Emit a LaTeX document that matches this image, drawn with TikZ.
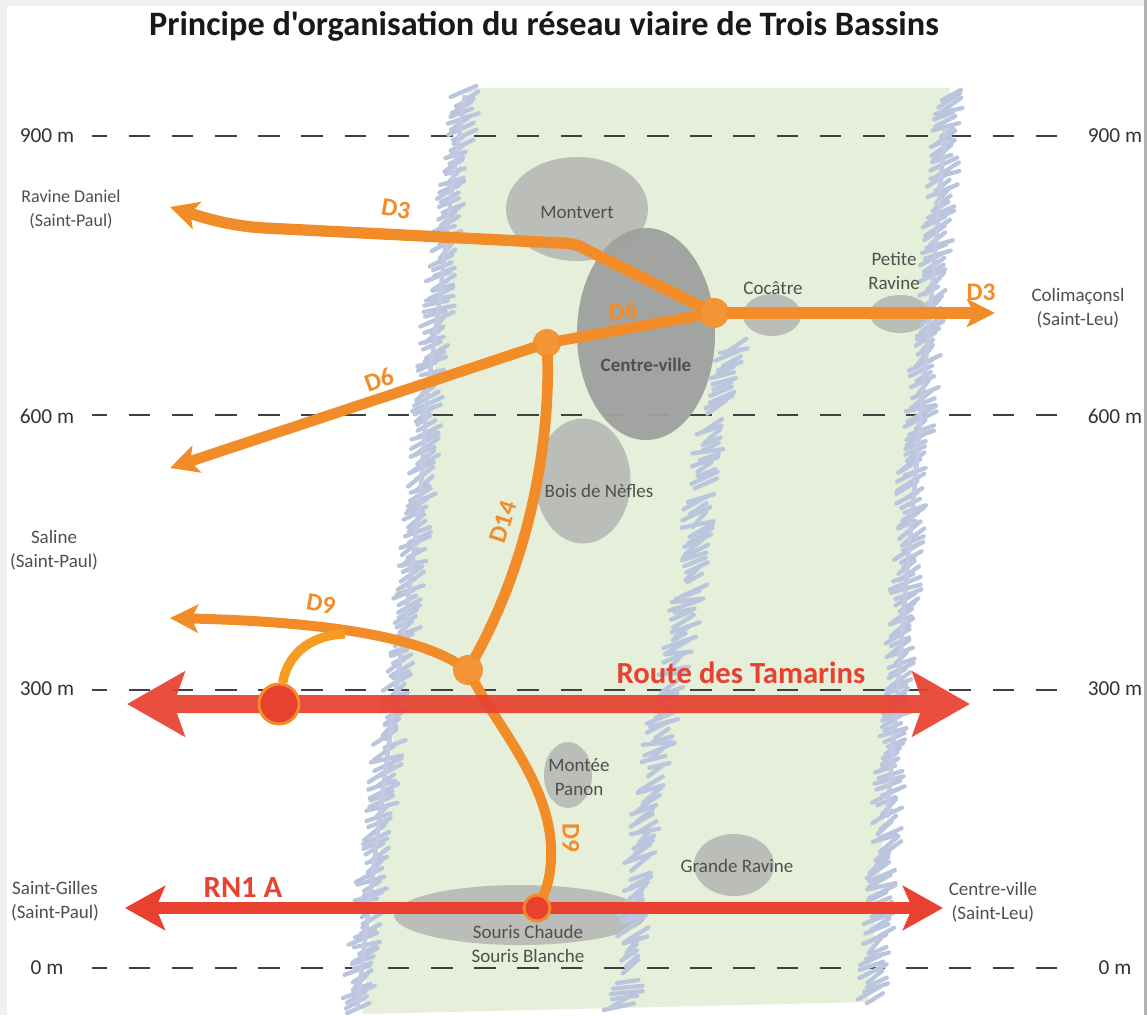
\documentclass[tikz,border=0pt]{standalone}
\usepackage{fontspec}
\setmainfont{Carlito}
\newfontfamily\titrefont{Carlito}
\usetikzlibrary{arrows.meta,shapes.geometric,decorations.markings}
\definecolor{bande}{HTML}{E5EFD9}
\definecolor{griffebleu}{HTML}{BAC6DD}
\definecolor{lavande}{HTML}{C3C8E3}
\definecolor{spotgris}{HTML}{B9BBB8}
\definecolor{centregris}{HTML}{9FA19F}
\definecolor{routeor}{HTML}{F28C28}
\definecolor{routero}{HTML}{E8412F}
\definecolor{texte}{HTML}{4F4F4F}
\tikzset{
  niveau/.style={line width=1.1pt,draw=black!75,dash pattern=on 16.2pt off 16.2pt,dash phase=5pt},
  griffe/.style={line width=3.2pt,line cap=round,draw=griffebleu},
  fil/.style={line width=3.5pt,draw=lavande},
  spot/.style 2 args={ellipse,fill=spotgris,fill opacity=.95,inner sep=0pt,minimum width=#1*0.75pt,minimum height=#2*0.75pt},
  lieu/.style={text=texte,align=center,font=\fontsize{14.25}{18}\selectfont},
  cote/.style={text=black!80,align=center,font=\fontsize{16}{18}\selectfont},
  rd/.style={line width=8pt,draw=routeor},
  rdtip/.style={-{Stealth[length=21pt,width=21pt,inset=5pt]}},
  noeud/.style={circle,fill=routeor!93!white,inner sep=0pt,outer sep=-2pt,minimum size=#1*0.75pt},
  feu/.style={circle,fill=routero,draw=routeor,line width=2.2pt,inner sep=0pt,minimum size=#1*0.75pt},
  rdnom/.style={text=routeor,font=\fontsize{19}{20}\bfseries\selectfont},
  rnnom/.style={text=routero,font=\fontsize{23}{24}\bfseries\selectfont},
}
\newcommand{\ravine}[1]{\path[postaction={decorate,decoration={markings,
  mark=between positions 0 and 1 step 4pt with {
    \pgfmathsetmacro{\da}{3+4*rnd}\pgfmathsetmacro{\db}{3+9*rnd}\pgfmathsetmacro{\dc}{3+9*rnd}
    \draw[griffe] (\da pt,-\db pt) -- (-\da pt,\dc pt);}}}] #1;}
\begin{document}
\begin{tikzpicture}[x=0.75pt,y=-0.75pt]
\useasboundingbox (0,0) rectangle (1147,1015);
\fill[white] (0,0) rectangle (1147,1015);
\fill[black!6] (0,0) rectangle (1147,6);
\fill[black!6] (0,0) rectangle (7,1015);
\fill[black!30] (1144,0) rectangle (1147,1015);
\fill[bande] (468,88) -- (950,88) -- (905,600) -- (868,1002) -- (362,1014) -- (425,450) -- cycle;
\foreach \yn in {136,415,690,968} {
  \coordinate (ga\yn) at (92,\yn);
  \coordinate (dr\yn) at (1057,\yn);
  \draw[niveau] (ga\yn) -- (dr\yn);
}
\node[spot={142}{104}] (montvert) at (577,209) {};
\node[spot={138}{212},fill=centregris] (centre) at (646,334) {};
\node[spot={95}{125}] (bois) at (583,481) {};
\node[spot={58}{42}] (cocatre) at (772,315) {};
\node[spot={60}{38}] (petite) at (900,314) {};
\node[spot={48}{66}] (montee) at (568,775) {};
\node[spot={80}{62}] (grande) at (734,865) {};
\node[spot={252}{60}] (souris) at (520,915) {};
\pgfmathsetseed{11}
\ravine{(467,92) -- (453,180) -- (440,297) -- (427,397) -- (420,500) -- (407,607) -- (383,790) -- (363,957) -- (356,1008)}
\ravine{(950,95) -- (943,180) -- (933,280) -- (927,347) -- (920,427) -- (913,458) -- (907,572) -- (898,686) -- (893,742) -- (887,818) -- (880,913) -- (872,1000)}
\draw[fil] (465,95) -- (453,180) -- (440,297) -- (427,397) -- (420,500) -- (407,607) -- (383,790) -- (363,957) -- (357,1010);
\draw[fil] (945,130) -- (933,280) -- (927,347) -- (920,427) -- (907,572) -- (898,686) -- (887,818);
\foreach \pa/\pb in {733/345,718/408,712/425,702/485,700/498,692/578,690/590,672/675,670/686,654/772,652/784,640/864,638/876,630/970,629/982,620/1008} {
  \coordinate (m\pb) at (\pa,\pb);
}
\ravine{(m345) -- (m408)}
\ravine{(m425) -- (m485)}
\ravine{(m498) -- (m578)}
\ravine{(m590) -- (m675)}
\ravine{(m686) -- (m772)}
\ravine{(m784) -- (m864)}
\ravine{(m876) -- (m970)}
\ravine{(m982) -- (m1008)}
\node[noeud=30] (jA) at (714,313) {};
\node[noeud=28] (jB) at (547,343) {};
\node[noeud=30] (jC) at (468,670) {};
\coordinate (jD) at (537,908);
\coordinate (dEst) at (995,313);
\coordinate (dNO) at (170,207);
\coordinate (dSO) at (170,468);
\coordinate (dNeuf) at (170,618);
\coordinate (tGa) at (127,704);
\coordinate (tDr) at (970,704);
\coordinate (nGa) at (125,908);
\coordinate (nDr) at (943,908);
\draw[rd,line width=8.5pt,rdtip] (jA) -- (dEst);
\draw[rd] (jA) -- (jB);
\draw[rd,rdtip] (jB) -- (dSO);
\draw[rd,line width=8.5pt,rdtip] (jA) -- (593,253) .. controls (580,246) and (575,243) .. (560,243) -- (265,228) .. controls (230,226) and (205,218) .. (dNO);
\draw[rd] (jB) .. controls (550,430) and (535,550) .. (jC);
\draw[rd,rdtip,line width=7.5pt] (jC) .. controls (420,640) and (340,622) .. (dNeuf);
\draw[rd,line width=7.5pt] (jC) .. controls (500,730) and (555,790) .. (551,860) .. controls (550,880) and (545,895) .. (jD);
\begin{scope}[transparency group,opacity=.92]
\draw[routero,line width=13.5pt,{Stealth[length=43pt,width=48pt,inset=8pt]}-{Stealth[length=43pt,width=48pt,inset=8pt]}] (tGa) -- (tDr);
\end{scope}
\draw[routero,line width=9pt,{Stealth[length=30pt,width=33pt,inset=7pt]}-{Stealth[length=30pt,width=33pt,inset=7pt]}] (nGa) -- (nDr);
\node[feu=26] (jDrond) at (jD) {};
\node[feu=40] (jE) at (279,704) {};
\draw[rd,line width=7pt,draw=routeor!85!yellow] (jE.80) .. controls (286,660) and (305,635) .. (345,634);
\node[lieu] (lMontvert) at (577,212) {Montvert};
\node[lieu,font=\fontsize{14.25}{18}\bfseries\selectfont] (lCentre) at (646,365) {Centre-ville};
\node[lieu] (lBois) at (599,491) {Bois de Nèfles};
\node[lieu] (lCocatre) at (773,288) {Cocâtre};
\node[lieu] (lPetite) at (894,271) {Petite\\Ravine};
\node[lieu] (lMontee) at (579,777) {Montée\\Panon};
\node[lieu] (lGrande) at (737,866) {Grande Ravine};
\node[lieu] (lSouris) at (528,944) {Souris Chaude\\Souris Blanche};
\node[lieu,font=\fontsize{13.5}{18}\selectfont] (lDaniel) at (71,209) {Ravine Daniel\\(Saint-Paul)};
\node[lieu] (lSaline) at (54,550) {Saline\\(Saint-Paul)};
\node[lieu] (lGilles) at (55,901) {Saint-Gilles\\(Saint-Paul)};
\node[lieu] (lColi) at (1078,308) {Colimaçonsl\\(Saint-Leu)};
\node[lieu] (lLeu) at (993,902) {Centre-ville\\(Saint-Leu)};
\foreach \yn/\tn in {136/900 m,416/600 m,689/300 m,968/0 m} {
  \node[cote] (ga\yn t) at (47,\yn) {\tn};
  \node[cote] (dr\yn t) at (1115,\yn) {\tn};
}
\node[rdnom,rotate=-10] (nDtroisO) at (396,209) {D3};
\node[rdnom] (nDtroisE) at (981,292) {D3};
\node[rdnom,rotate=6] (nDsixA) at (623,311) {D6};
\node[rdnom,rotate=20] (nDsixB) at (379,380) {D6};
\node[rdnom,rotate=72] (nDquatorze) at (503,522) {D14};
\node[rdnom,rotate=-10] (nDneufO) at (321,604) {D9};
\node[rdnom,rotate=-90] (nDneufS) at (571,838) {D9};
\node[rnnom] (nRN) at (243,888) {RN1 A};
\node[rnnom] (nRoute) at (741,673) {Route des Tamarins};
\node[font=\titrefont\fontsize{25.7}{28}\bfseries\selectfont,text=black!90] (titre) at (544,26) {Principe d'organisation du réseau viaire de Trois Bassins};
\end{tikzpicture}
\end{document}
